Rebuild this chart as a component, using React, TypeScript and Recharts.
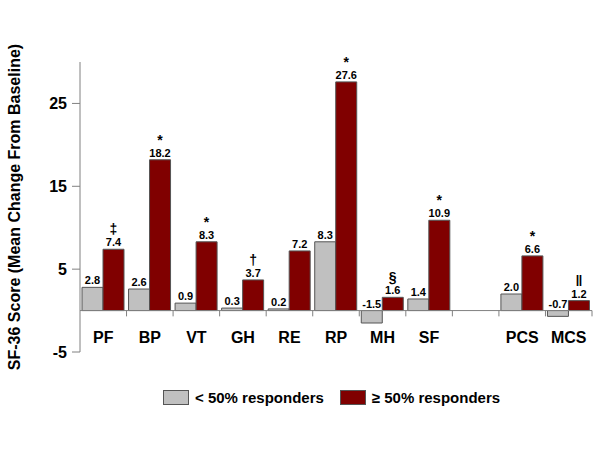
import React from 'react';
import { BarChart, Bar, XAxis, YAxis, Legend, LabelList, ReferenceLine } from 'recharts';

const categories = ['PF', 'BP', 'VT', 'GH', 'RE', 'RP', 'MH', 'SF', ' ', 'PCS', 'MCS'];
const below50 = [2.8, 2.6, 0.9, 0.3, 0.2, 8.3, -1.5, 1.4, null, 2.0, -0.7];
const above50 = [7.4, 18.2, 8.3, 3.7, 7.2, 27.6, 1.6, 10.9, null, 6.6, 1.2];
const marks = ['‡', '*', '*', '†', '', '*', '§', '*', '', '*', '‖'];
const yTicks = [-5, 5, 15, 25];

const FONT = '"Liberation Sans", Arial, Helvetica, sans-serif';
const GRAY = '#c0c0c0';
const RED = '#800000';
const EDGE = '#555555';
const AXIS = '#808080';

const data = categories.map((name, i) => ({
  name,
  below: below50[i],
  above: above50[i],
  mark: marks[i],
}));

// value printed just above the bar (or above the baseline for negative bars)
const valueLabel = (props: any) => {
  if (props.value == null) return null;
  const vb = props.viewBox || props;
  const { x, y, width, height } = vb;
  const top = Math.min(y, y + height);
  return (
    <text x={x + width / 2} y={top - 3} textAnchor="middle" fontSize={11} fontWeight="bold" fontFamily={FONT} fill="#000">
      {Number(props.value).toFixed(1)}
    </text>
  );
};

const markLabel = (props: any) => {
  if (!props.value) return null;
  const vb = props.viewBox || props;
  const { x, y, width, height } = vb;
  const top = Math.min(y, y + height);
  return (
    <text x={x + width / 2} y={top - 15} textAnchor="middle" fontSize={14} fontWeight="bold" fontFamily={FONT} fill="#000">
      {props.value}
    </text>
  );
};

const CategoryTick = ({ x, y, payload }: any) => (
  <text x={x} y={y} dy={-9} textAnchor="middle" fontSize={16} fontWeight="bold" fontFamily={FONT} fill="#000">
    {payload.value}
  </text>
);

const AxisTitle = ({ viewBox }: any) => {
  const cx = viewBox.x + 14;
  const cy = viewBox.y + viewBox.height / 2;
  return (
    <text x={cx} y={cy} transform={`rotate(-90 ${cx} ${cy})`} textAnchor="middle" dominantBaseline="central"
      fontSize={16} fontWeight="bold" fontFamily={FONT} fill="#000">
      SF-36 Score (Mean Change From Baseline)
    </text>
  );
};

const renderLegend = (props: any) => (
  <div style={{ display: 'flex', alignItems: 'center', height: 20, paddingLeft: 163, fontFamily: FONT, fontWeight: 'bold', fontSize: 15, color: '#000' }}>
    {(props.payload || []).map((entry: any, i: number) => (
      <React.Fragment key={entry.value}>
        <span style={{ display: 'inline-block', width: 24, height: 13, background: entry.color, border: `1px solid ${EDGE}`, marginLeft: i ? 16 : 0, marginRight: 6 }} />
        <span>{entry.value}</span>
      </React.Fragment>
    ))}
  </div>
);

export default function App() {
  return (
    <div style={{ position: 'absolute', left: 0, top: 0, background: '#fff' }}>
      <BarChart width={600} height={449} data={data} margin={{ top: 62, right: 8, bottom: 42, left: 0 }} barGap={0} barSize={21}>
        <XAxis dataKey="name" axisLine={false} tickLine={false} tickSize={0} tickMargin={0} height={35} tick={<CategoryTick />} interval={0} />
        <YAxis
          width={80}
          domain={[-5, 30]}
          ticks={yTicks}
          allowDataOverflow
          stroke={AXIS}
          tickSize={8}
          tickMargin={5}
          tick={{ fontSize: 16, fontWeight: 'bold', fontFamily: FONT, fill: '#000' }}
          label={<AxisTitle />}
        />
        <ReferenceLine y={0} stroke={AXIS} />
        {categories.slice(1).map((c) => (
          <ReferenceLine key={c} segment={[{ x: c, y: 0 }, { x: c, y: -0.7 }]} position="start" stroke={AXIS} />
        ))}
        <ReferenceLine
          segment={[{ x: categories[categories.length - 1], y: 0 }, { x: categories[categories.length - 1], y: -0.7 }]}
          position="end"
          stroke={AXIS}
        />
        <Legend verticalAlign="bottom" wrapperStyle={{ left: 0, width: 600 }} content={renderLegend} />
        <Bar dataKey="below" name="< 50% responders" fill={GRAY} stroke={EDGE} strokeWidth={1} isAnimationActive={false}>
          <LabelList dataKey="below" content={valueLabel} />
        </Bar>
        <Bar dataKey="above" name="≥ 50% responders" fill={RED} stroke={EDGE} strokeWidth={1} isAnimationActive={false}>
          <LabelList dataKey="above" content={valueLabel} />
          <LabelList dataKey="mark" content={markLabel} />
        </Bar>
      </BarChart>
    </div>
  );
}
